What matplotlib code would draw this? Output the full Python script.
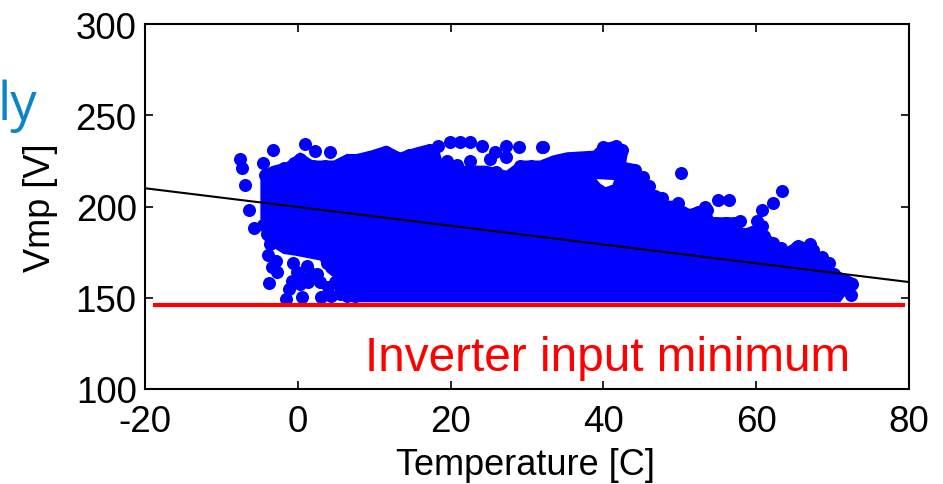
import matplotlib
matplotlib.use("Agg")
import matplotlib.pyplot as plt

plt.rcParams["font.family"] = ["Liberation Sans", "DejaVu Sans"]

# upper and lower edge of the solid part of the cloud
top_temp = [-4.9, -3.2, -1.5, 0.3, 2.0, 4.7, 6.4, 7.7, 9.5, 11.6, 13.4, 15.6, 17.3, 18.6, 19.1,
            23.0, 24.7, 27.3, 29.1, 31.7, 33.4, 35.2, 38.7, 39.6, 41.7, 43.3, 43.0, 44.1, 46.1,
            46.2, 47.0, 49.2, 51.3, 53.5, 54.4, 57.9, 58.3, 59.6, 62.2, 64.0, 65.3, 67.7, 67.9,
            69.2, 70.1, 73.1, 73.4]
top_vmp = [218.8, 222.4, 224.2, 229.7, 225.2, 225.2, 228.8, 228.8, 230.6, 233.4, 229.7, 232.5,
           234.3, 229.7, 222.4, 222.4, 222.4, 219.7, 225.2, 225.2, 228.0, 229.7, 230.6, 234.3,
           236.1, 231.5, 224.2, 223.3, 214.2, 207.8, 203.2, 203.2, 198.7, 201.4, 194.1, 194.1,
           187.7, 189.5, 183.2, 177.7, 181.3, 179.5, 174.0, 173.1, 165.8, 160.3, 157.6]
bottom_temp = [-4.9, -4.3, -1.9, -0.4, 2.9, 3.8, 6.6, 7.0, 71.0, 71.8, 73.1, 73.4]
bottom_vmp = [193.2, 180.4, 174.0, 173.1, 170.4, 164.0, 154.9, 147.5, 147.5, 152.0, 155.0, 157.6]

# single dots that stick out of the solid part
dot_temp = [-7.6, -7.3, -6.9, -6.4, -5.7, -4.5, -3.3, 0.9, 2.2, 4.2,
            -3.8, -3.9, -3.4, -3.6, -2.7, -1.2, -1.5, 0.5, 0.3, 1.4, -0.1, 1.2, 2.5, 2.9, 3.1,
            4.4, 5.5, 4.9, 4.7, 6.2,
            18.4, 19.5, 19.9, 20.8, 21.2, 22.5, 22.5, 24.1, 25.2, 25.8, 27.3, 27.3, 28.9, 31.9,
            32.1, 40.0, 41.7, 42.4, 47.7, 49.8, 50.1, 53.3, 54.95, 56.4, 57.9,
            60.1, 60.7, 60.7, 62.2, 63.4, 65.5, 67.0, 68.6, 72.4, 72.5]
dot_vmp = [226.0, 221.0, 212.0, 198.0, 188.0, 223.7, 231.0, 234.0, 230.6, 229.7,
           158.0, 173.5, 166.7, 179.5, 164.0, 154.9, 149.4, 150.3, 157.6, 158.5, 164.0, 167.6,
           163.0, 158.5, 150.3, 151.2, 152.1, 158.5, 165.8, 156.7,
           233.4, 225.2, 235.2, 222.8, 235.2, 235.2, 225.2, 233.4, 226.1, 229.7, 233.4, 227.0,
           232.5, 232.5, 232.5, 232.5, 233.4, 231.2, 204.7, 202.0, 218.6, 199.6, 203.4, 203.4,
           192.3, 191.9, 198.3, 189.2, 202.1, 208.5, 178.6, 179.5, 172.2, 151.7, 157.6]

# dots along the rim of the solid part
rim_temp = [-4.3, -3.2, -1.8, -0.5, 0.3, 2.0, 3.5, 5.5, 6.4, 7.7, 9.5, 10.5, 11.6, 13.4, 14.5,
            15.6, 17.3, 23.5, 26.0, 29.1, 30.5, 33.4, 35.2, 37.0, 38.7, 44.1, 45.2, 46.0, 46.8,
            47.9, 49.2, 51.3, 52.4, 53.5, 54.8, 56.0, 57.2, 58.3, 59.6, 61.0, 62.2, 63.2, 64.4,
            65.3, 66.5, 67.4, 68.4, 69.5, 70.2, 71.5,
            7.5, 6.5, 5.5, 3.9, 6.0, 5.6, 3.8, 1.8, 0.7, -0.8, -0.6, -2.8, -4.0, -4.5]
rim_vmp = [217.0, 219.0, 221.0, 224.0, 226.0, 222.0, 222.0, 223.0, 225.0, 225.0, 227.0, 228.0,
           230.0, 226.0, 228.0, 229.0, 231.0, 219.0, 219.0, 222.0, 222.0, 224.5, 226.0, 226.5,
           227.0, 220.0, 216.0, 211.0, 206.0, 199.5, 200.0, 195.0, 197.0, 198.0, 191.0, 191.0,
           191.0, 185.0, 186.0, 184.0, 180.0, 177.0, 175.0, 178.0, 176.0, 176.0, 171.0, 169.0,
           163.0, 160.0,
           151.0, 151.0, 156.0, 156.0, 160.0, 165.0, 169.0, 163.0, 161.0, 159.0, 169.0, 170.0,
           185.0, 190.0]

# white gap inside the cloud
gap_temp = [39.1, 41.4, 41.2, 40.3, 39.6]
gap_vmp = [215.0, 214.5, 212.0, 210.6, 212.5]

fit_temp = [-20, 80]
fit_vmp = [210, 158.6]
limit_temp = [-19, 79.5]
limit_vmp = [146, 146]

x_ticks = [-20, 0, 20, 40, 60, 80]
y_ticks = [100, 150, 200, 250, 300]

BLUE = "#0000FF"
RED = "#FF0000"

fig = plt.figure(figsize=(9.43, 4.85), dpi=100)
ax = fig.add_axes([145 / 943, 95 / 485, 764 / 943, 365 / 485])

ax.fill(top_temp + bottom_temp[::-1], top_vmp + bottom_vmp[::-1], color=BLUE, lw=0, zorder=2)
ax.scatter(dot_temp, dot_vmp, s=88, color=BLUE, linewidths=0, zorder=2)
ax.scatter(rim_temp, rim_vmp, s=88, color=BLUE, linewidths=0, zorder=2)
ax.fill(gap_temp, gap_vmp, color="white", lw=0, zorder=3)
ax.plot(fit_temp, fit_vmp, color="black", lw=1.5, zorder=4)
ax.plot(limit_temp, limit_vmp, color=RED, lw=3, solid_capstyle="butt", zorder=4)

ax.text(40.5, 117.5, "Inverter input minimum", color=RED, fontsize=34.4, ha="center", va="center")

ax.set_xlim(-20, 80)
ax.set_ylim(100, 300)
ax.set_xticks(x_ticks)
ax.set_xticklabels([str(t) for t in x_ticks])
ax.set_yticks(y_ticks)
ax.tick_params(direction="in", top=True, right=True, length=6, width=1.2, labelsize=26.5)
ax.tick_params(axis="x", pad=11)
ax.tick_params(axis="y", pad=6)
for spine in ax.spines.values():
    spine.set_linewidth(1.5)

fig.text(525 / 943, 1 - 466 / 485, "Temperature [C]", fontsize=26, ha="center", va="center")
fig.text(40 / 943, 1 - 208 / 485, "Vmp [V]", fontsize=26, rotation=90, ha="center", va="center")
fig.text(37 / 943, 1 - 106 / 485, "ly", color="#0A85C7", fontsize=38, family="Open Sans",
         ha="right", va="center")

fig.savefig("out.png", dpi=100)
